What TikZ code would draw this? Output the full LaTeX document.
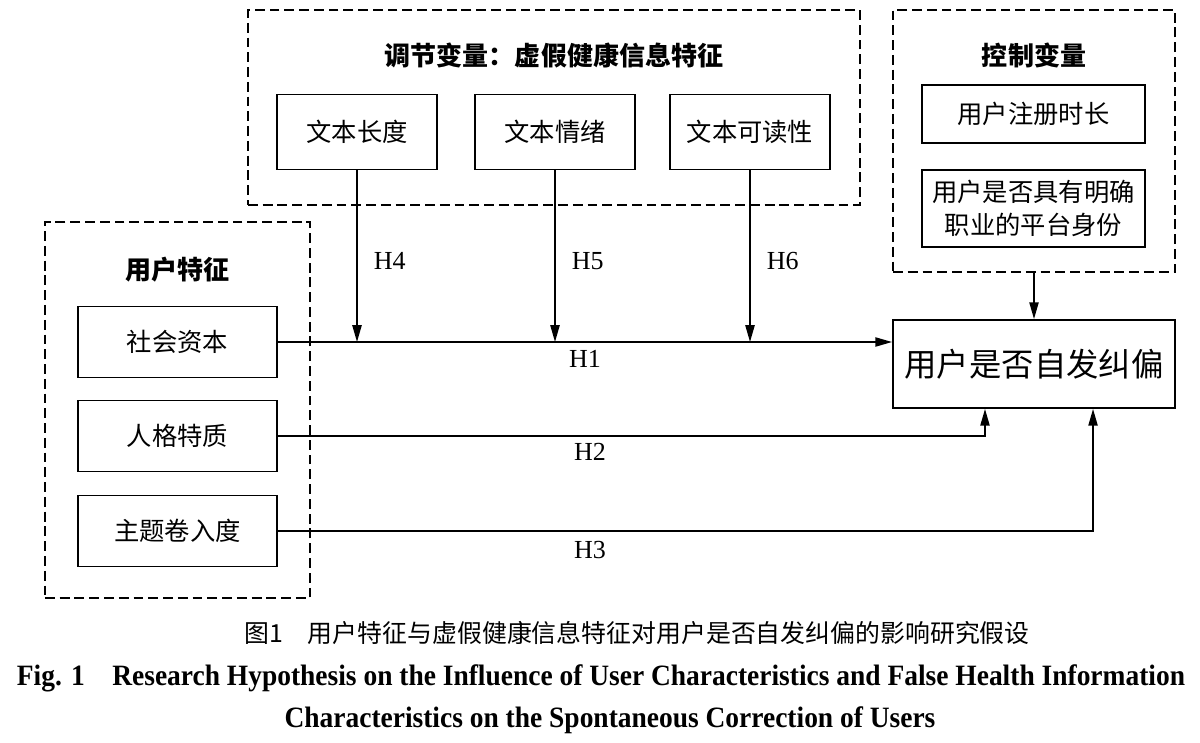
\documentclass[tikz,border=0pt]{standalone}
\usepackage{fontspec}
\setmainfont{Liberation Serif}
\newfontfamily\cjk{Noto Sans CJK SC}
\usetikzlibrary{arrows.meta,positioning}

\begin{document}
\begin{tikzpicture}[
    x=0.025cm, y=-0.025cm,
    group/.style={rectangle, draw, line width=1.3pt, dash pattern=on 7pt off 3.5pt},
    var/.style={rectangle, draw, line width=1.3pt, align=center, inner sep=2pt,
                font=\cjk\fontsize{18}{24}\selectfont},
    heading/.style={font=\cjk\bfseries\fontsize{18.5}{22}\selectfont},
    arrow/.style={-{Triangle[length=4.2mm,width=2.3mm]}, line width=1.2pt},
    hyp/.style={font=\fontsize{18.5}{22}\selectfont},
    caption/.style={font=\fontsize{17}{20}\selectfont}
]
\useasboundingbox (0,0) rectangle (1200,742);

%% -- Groups -------------------------------------------------------
\node[group, minimum width=15.3cm, minimum height=4.875cm] (modgroup) at (554,107.5) {};
\node[group, minimum width=7.05cm, minimum height=6.55cm] (ctrlgroup) at (1034,141) {};
\node[group, minimum width=6.625cm, minimum height=9.4cm] (usergroup) at (177.5,410) {};

\node[heading] (modtitle)  at (554,55)   {调节变量：虚假健康信息特征};
\node[heading] (ctrltitle) at (1034,55)  {控制变量};
\node[heading] (usertitle) at (177.5,270) {用户特征};

%% -- Moderators ---------------------------------------------------
\node[var, minimum width=4cm, minimum height=1.875cm] (len)  at (357,132) {文本长度};
\node[var, minimum width=4cm, minimum height=1.875cm] (emo)  at (555,132) {文本情绪};
\node[var, minimum width=4cm, minimum height=1.875cm] (read) at (750,132) {文本可读性};

%% -- Controls -----------------------------------------------------
\node[var, minimum width=5.575cm, minimum height=1.45cm]  (reg)  at (1033.5,114)   {用户注册时长};
\node[var, minimum width=5.575cm, minimum height=1.925cm] (prof) at (1033.5,208.5) {用户是否具有明确\\职业的平台身份};

%% -- User characteristics -----------------------------------------
\node[var, minimum width=4.975cm, minimum height=1.775cm] (social) at (177.5,342) {社会资本};
\node[var, minimum width=4.975cm, minimum height=1.775cm] (pers)   at (177.5,436) {人格特质};
\node[var, minimum width=4.975cm, minimum height=1.775cm] (topic)  at (177.5,531) {主题卷入度};

%% -- Outcome ------------------------------------------------------
\node[var, minimum width=7.05cm, minimum height=2.2cm,
      font=\cjk\fontsize{23}{28}\selectfont] (out) at (1034,364) {用户是否自发纠偏};

%% -- Arrows -------------------------------------------------------
\draw[arrow] (social.east) -- node[hyp, below=2pt] {H1} (social.east -| out.west);
\draw[arrow] (pers.east)  -| ([xshift=-1.225cm]out.south);
\draw[arrow] (topic.east) -| ([xshift=1.475cm]out.south);
\draw[arrow] (len.south)  -- node[hyp, right=8pt, pos=0.53] {H4} (len.south |- social.east);
\draw[arrow] (emo.south)  -- node[hyp, right=8pt, pos=0.53] {H5} (emo.south |- social.east);
\draw[arrow] (read.south) -- node[hyp, right=8pt, pos=0.53] {H6} (read.south |- social.east);
\draw[arrow] (ctrlgroup.south) -- (out.north);

\node[hyp] (h2) at (590,452) {H2};
\node[hyp] (h3) at (590,550) {H3};

%% -- Caption ------------------------------------------------------
\node[caption, font=\cjk\fontsize{17.7}{20}\selectfont] (capcn) at (637,633)
    {图1\quad 用户特征与虚假健康信息特征对用户是否自发纠偏的影响研究假设};
\node[caption, font=\bfseries\fontsize{21}{24}\selectfont] (capen1) at (601,678)
    {\scalebox{0.93}[1]{Fig. 1\quad Research Hypothesis on the Influence of User Characteristics and False Health Information}};
\node[caption, font=\bfseries\fontsize{21}{24}\selectfont] (capen2) at (610,720)
    {\scalebox{0.93}[1]{Characteristics on the Spontaneous Correction of Users}};

\end{tikzpicture}
\end{document}
